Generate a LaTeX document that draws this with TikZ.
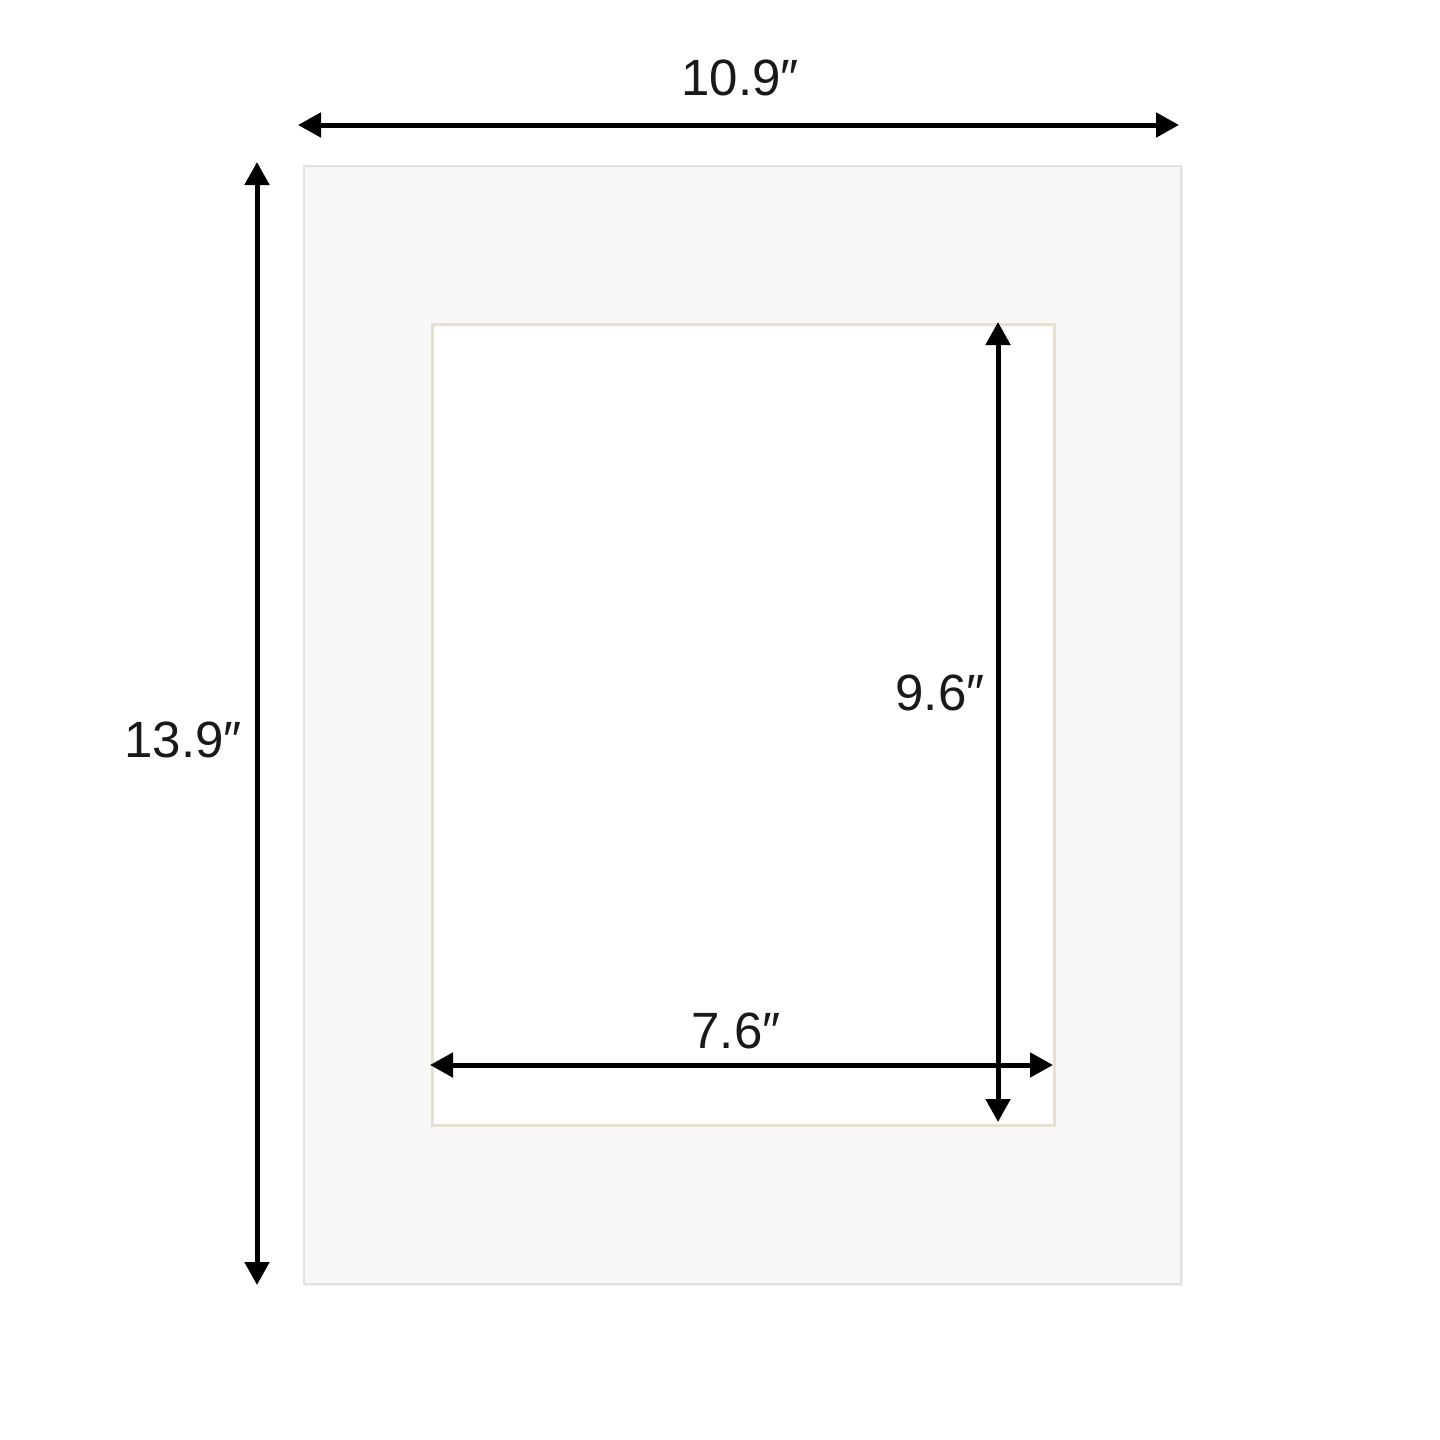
\documentclass[tikz,border=0pt]{standalone}
\usepackage{fontspec}
\setmainfont{Liberation Sans}
\usetikzlibrary{arrows.meta}
\definecolor{matfill}{HTML}{F9F7F7}
\definecolor{matedge}{HTML}{E2E0E0}
\definecolor{bevel}{HTML}{E6E0D2}
\tikzset{
  dimline/.style={line width=2.5pt, {Triangle[length=11.5pt,width=12pt]}-{Triangle[length=11.5pt,width=12pt]}},
  dimlabel/.style={font=\fontsize{25.5pt}{29pt}\selectfont, text=black!90, inner sep=0pt}
}
\begin{document}
\begin{tikzpicture}[x=0.5pt,y=-0.5pt]
\useasboundingbox (0,0) rectangle (1440,1440);
% shadow
\fill[black!6] (305,167) rectangle (1183,1286);
% mat
\node[draw=matedge, line width=1pt, fill=matfill, minimum width=438.5pt, minimum height=559pt, inner sep=0pt, anchor=north west] (mat) at (303,165) {};
% opening
\node[draw=bevel, line width=1.6pt, fill=white, minimum width=311pt, minimum height=400.5pt, inner sep=0pt, anchor=north west] (open) at (431,323) {};
% coordinates
\coordinate (tl) at (298,125);
\coordinate (tr) at (1179,125);
\coordinate (lt) at (257,162);
\coordinate (lb) at (257,1285);
\coordinate (vt) at (998,322);
\coordinate (vb) at (998,1122);
\coordinate (hl) at (430,1065);
\coordinate (hr) at (1053,1065);
\draw[dimline] (tl) -- (tr);
\draw[dimline] (lt) -- (lb);
\draw[dimline] (vt) -- (vb);
\draw[dimline] (hl) -- (hr);
\node[dimlabel] (w) at (740,78) {10.9″};
\node[dimlabel] (h) at (183,740) {13.9″};
\node[dimlabel] (ih) at (940,693) {9.6″};
\node[dimlabel] (iw) at (736,1031) {7.6″};
\end{tikzpicture}
\end{document}
